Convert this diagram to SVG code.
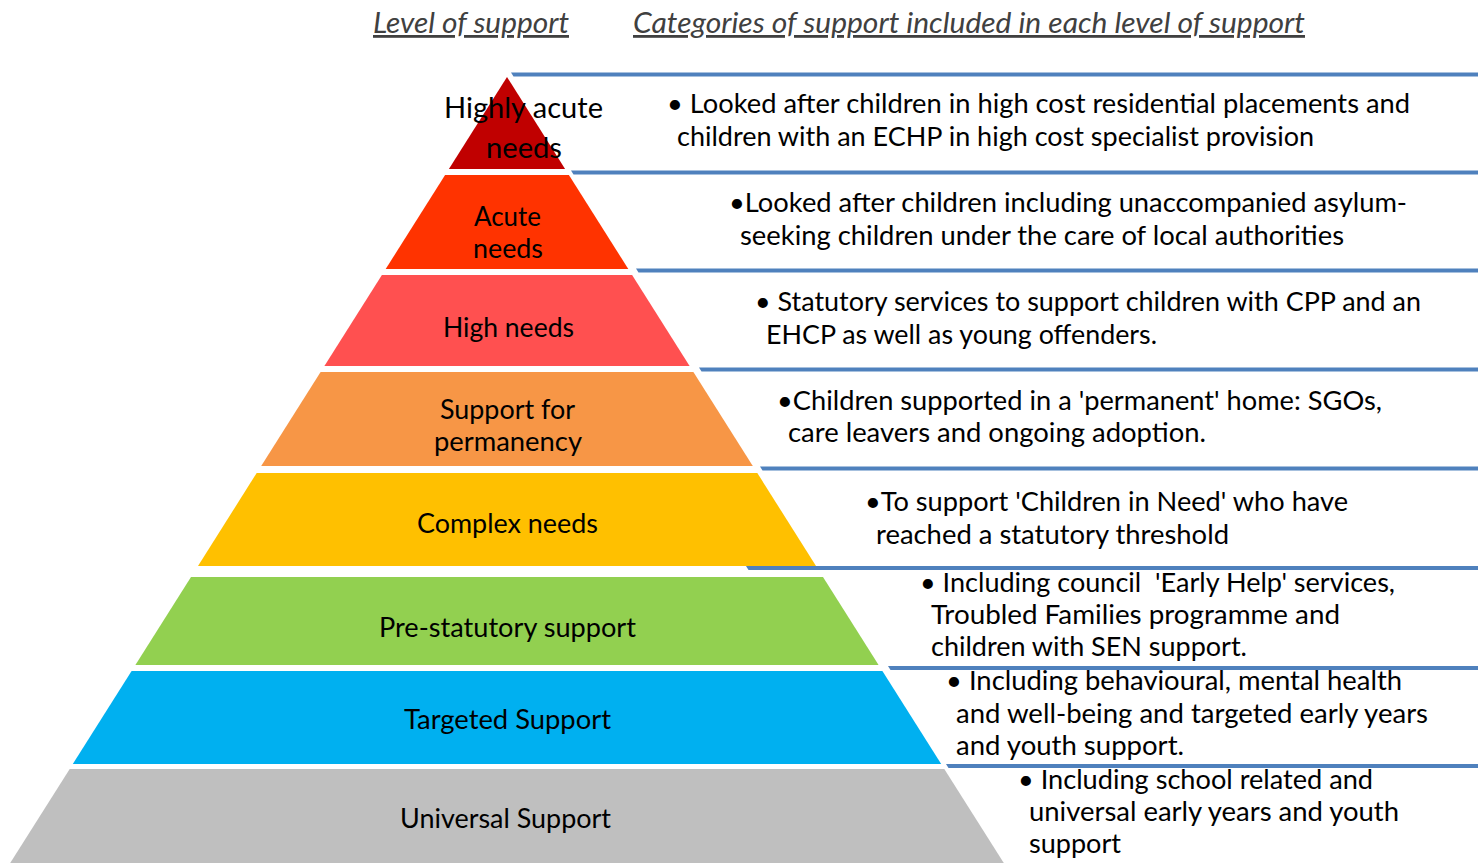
<svg xmlns="http://www.w3.org/2000/svg" width="1478" height="863" viewBox="0 0 1478 863">
  <style>
    .title { font-family: Lato, "Liberation Sans", sans-serif; font-size: 28px; font-style: italic; fill: #404040; text-decoration: underline; }
    .lvl { font-family: Lato, "Liberation Sans", sans-serif; font-size: 26px; fill: #000; }
    .lvl-top { font-family: Lato, "Liberation Sans", sans-serif; font-size: 28px; fill: #000; }
    .desc { font-family: Lato, "Liberation Sans", sans-serif; font-size: 26.5px; fill: #000; white-space: pre; }
    .rule { fill: #4F81BD; }
  </style>
  <rect width="1478" height="863" fill="#fff"/>

  <!-- column headings -->
  <g id="headings">
    <text class="title" x="373" y="33" textLength="196" lengthAdjust="spacingAndGlyphs">Level of support</text>
    <text class="title" x="633" y="33" textLength="672" lengthAdjust="spacingAndGlyphs">Categories of support included in each level of support</text>
  </g>

  <!-- separator rules between category rows -->
  <g id="connectors">
    <polygon class="rule" points="511,72.5 1478,72.5 1478,76.5 513.5,76.5"/>
    <polygon class="rule" points="571,170.5 1478,170.5 1478,174.5 573.5,174.5"/>
    <polygon class="rule" points="636,268.5 1478,268.5 1478,272.5 638.5,272.5"/>
    <polygon class="rule" points="699,367.5 1478,367.5 1478,371.5 701.5,371.5"/>
    <polygon class="rule" points="760,466.5 1478,466.5 1478,470.5 762.5,470.5"/>
    <polygon class="rule" points="746,566 1478,566 1478,570 748.5,570"/>
    <polygon class="rule" points="888,666 1478,666 1478,670 890.5,670"/>
    <polygon class="rule" points="946,764 1478,764 1478,768 948.5,768"/>
  </g>

  <!-- pyramid levels, apex to base -->
  <g id="level-highly-acute">
    <polygon fill="#C00000" points="507,77 565.1,169 448.9,169"/>
    <text class="lvl-top" x="444" y="118" textLength="159" lengthAdjust="spacingAndGlyphs">Highly acute</text>
    <text class="lvl-top" x="486" y="158" textLength="76" lengthAdjust="spacingAndGlyphs">needs</text>
  </g>
  <g id="level-acute">
    <polygon fill="#FF3300" points="445.1,175 568.9,175 628.3,269 385.7,269"/>
    <text class="lvl" x="474" y="226" textLength="67" lengthAdjust="spacingAndGlyphs">Acute</text>
    <text class="lvl" x="473" y="258" textLength="70" lengthAdjust="spacingAndGlyphs">needs</text>
  </g>
  <g id="level-high">
    <polygon fill="#FF5050" points="381.9,275 632.1,275 689.6,366 324.4,366"/>
    <text class="lvl" x="443" y="337" textLength="131" lengthAdjust="spacingAndGlyphs">High needs</text>
  </g>
  <g id="level-permanency">
    <polygon fill="#F79646" points="320.6,372 693.4,372 752.8,466 261.2,466"/>
    <text class="lvl" x="440" y="419" textLength="135" lengthAdjust="spacingAndGlyphs">Support for</text>
    <text class="lvl" x="434" y="451" textLength="148" lengthAdjust="spacingAndGlyphs">permanency</text>
  </g>
  <g id="level-complex">
    <polygon fill="#FFC000" points="256.7,473 757.3,473 816,566 198,566"/>
    <text class="lvl" x="417" y="533" textLength="181" lengthAdjust="spacingAndGlyphs">Complex needs</text>
  </g>
  <g id="level-pre-statutory">
    <polygon fill="#92D050" points="191,577 823,577 878.6,665 135.4,665"/>
    <text class="lvl" x="379" y="637" textLength="257" lengthAdjust="spacingAndGlyphs">Pre-statutory support</text>
  </g>
  <g id="level-targeted">
    <polygon fill="#00B0F0" points="131.6,671 882.4,671 941.2,764 72.8,764"/>
    <text class="lvl" x="404" y="729" textLength="207" lengthAdjust="spacingAndGlyphs">Targeted Support</text>
  </g>
  <g id="level-universal">
    <polygon fill="#BFBFBF" points="69.7,769 944.3,769 1003.8,863 10.2,863"/>
    <text class="lvl" x="400" y="828" textLength="211" lengthAdjust="spacingAndGlyphs">Universal Support</text>
  </g>

  <!-- category descriptions -->
  <g id="desc-highly-acute">
    <text class="desc" x="667" y="113" textLength="743" lengthAdjust="spacingAndGlyphs">• Looked after children in high cost residential placements and</text>
    <text class="desc" x="677" y="146" textLength="637" lengthAdjust="spacingAndGlyphs">children with an ECHP in high cost specialist provision</text>
  </g>
  <g id="desc-acute">
    <text class="desc" x="729" y="212" textLength="678" lengthAdjust="spacingAndGlyphs">•Looked after children including unaccompanied asylum-</text>
    <text class="desc" x="740" y="245" textLength="604" lengthAdjust="spacingAndGlyphs">seeking children under the care of local authorities</text>
  </g>
  <g id="desc-high">
    <text class="desc" x="755" y="311" textLength="666" lengthAdjust="spacingAndGlyphs">• Statutory services to support children with CPP and an</text>
    <text class="desc" x="766" y="344" textLength="391" lengthAdjust="spacingAndGlyphs">EHCP as well as young offenders.</text>
  </g>
  <g id="desc-permanency">
    <text class="desc" x="777" y="410" textLength="605" lengthAdjust="spacingAndGlyphs">•Children supported in a 'permanent' home: SGOs,</text>
    <text class="desc" x="788" y="442" textLength="418" lengthAdjust="spacingAndGlyphs">care leavers and ongoing adoption.</text>
  </g>
  <g id="desc-complex">
    <text class="desc" x="865" y="511" textLength="483" lengthAdjust="spacingAndGlyphs">•To support 'Children in Need' who have</text>
    <text class="desc" x="876" y="544" textLength="353" lengthAdjust="spacingAndGlyphs">reached a statutory threshold</text>
  </g>
  <g id="desc-pre-statutory">
    <text class="desc" x="920" y="592" textLength="475" lengthAdjust="spacingAndGlyphs">• Including council  'Early Help' services,</text>
    <text class="desc" x="931" y="624" textLength="409" lengthAdjust="spacingAndGlyphs">Troubled Families programme and</text>
    <text class="desc" x="931" y="656" textLength="316" lengthAdjust="spacingAndGlyphs">children with SEN support.</text>
  </g>
  <g id="desc-targeted">
    <text class="desc" x="946" y="690" textLength="456" lengthAdjust="spacingAndGlyphs">• Including behavioural, mental health</text>
    <text class="desc" x="956" y="723" textLength="472" lengthAdjust="spacingAndGlyphs">and well-being and targeted early years</text>
    <text class="desc" x="956" y="755" textLength="228" lengthAdjust="spacingAndGlyphs">and youth support.</text>
  </g>
  <g id="desc-universal">
    <text class="desc" x="1018" y="789" textLength="355" lengthAdjust="spacingAndGlyphs">• Including school related and</text>
    <text class="desc" x="1029" y="821" textLength="370" lengthAdjust="spacingAndGlyphs">universal early years and youth</text>
    <text class="desc" x="1029" y="853" textLength="92" lengthAdjust="spacingAndGlyphs">support</text>
  </g>
</svg>
